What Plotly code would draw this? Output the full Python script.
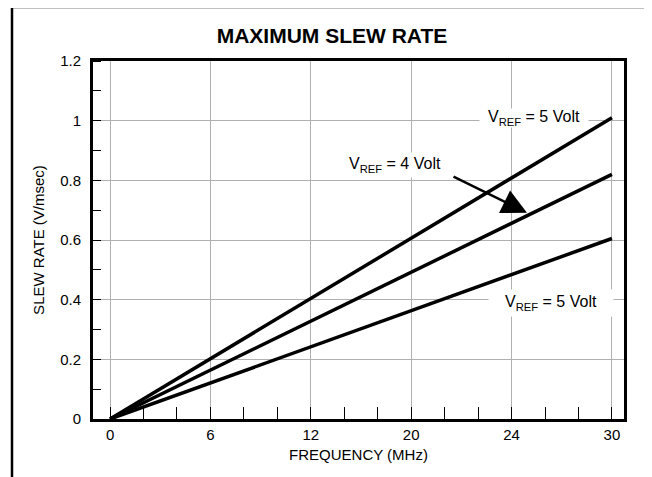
import plotly.graph_objects as go

# Data
freq = [0, 30]
slew_vref5_top = [0, 1.01]
slew_vref4 = [0, 0.82]
slew_vref5_bottom = [0, 0.605]

x_tickvals = [0, 6, 12, 18, 24, 30]
x_ticktext = ["0", "6", "12", "20", "24", "30"]
y_tickvals = [0, 0.2, 0.4, 0.6, 0.8, 1.0, 1.2]
y_ticktext = ["0", "0.2", "0.4", "0.6", "0.8", "1", "1.2"]

FONT = "Liberation Sans, Arial, Helvetica, sans-serif"

fig = go.Figure()
for ys in (slew_vref5_top, slew_vref4, slew_vref5_bottom):
    fig.add_trace(go.Scatter(x=freq, y=ys, mode="lines",
                             line=dict(color="black", width=3.5),
                             showlegend=False, hoverinfo="skip"))

W, H = 652, 477
OFF = 8  # page body margin
L, T = 93 - OFF, 61 - OFF
pw, ph = 531, 358
R = W - L - pw
B = H - T - ph

def px(xp):
    return (xp - OFF - L) / pw

def py(yp):
    return (T + ph - (yp - OFF)) / ph

fig.update_layout(
    width=W, height=H,
    margin=dict(l=L, r=R, t=T, b=B),
    paper_bgcolor="white", plot_bgcolor="white",
    font=dict(family=FONT, size=15, color="black"),
    title=dict(text="<b>MAXIMUM SLEW RATE</b>", x=px(332), y=1 - (36 - OFF) / H,
               xref="paper", xanchor="center", yanchor="middle",
               font=dict(family=FONT, size=21, color="black")),
    xaxis=dict(range=[-1.02, 30.72], tickvals=x_tickvals, ticktext=x_ticktext,
               showgrid=True, gridcolor="#b0b0b0", gridwidth=1,
               zeroline=False, showline=True, linecolor="black", linewidth=3,
               mirror=True, ticks="",
               minor=dict(dtick=2, tick0=0, ticks="inside", ticklen=12,
                          tickcolor="black", tickwidth=1, showgrid=False),
               title=dict(text="FREQUENCY (MHz)", standoff=8,
                          font=dict(size=15)),
               tickfont=dict(size=15)),
    yaxis=dict(range=[0, 1.2], tickvals=y_tickvals, ticktext=y_ticktext,
               showgrid=True, gridcolor="#b0b0b0", gridwidth=1,
               zeroline=False, showline=True, linecolor="black", linewidth=3,
               mirror=True, ticks="", ticklabelstandoff=6,
               minor=dict(dtick=0.1, tick0=0, ticks="inside", ticklen=8,
                          tickcolor="black", tickwidth=1, showgrid=False),
               title=dict(text="SLEW RATE (V/msec)", standoff=12,
                          font=dict(size=15)),
               tickfont=dict(size=15)),
)

ann_font = dict(family=FONT, size=16, color="black")
fig.add_annotation(x=25.35, y=1.01, text="V<sub>REF</sub> = 5 Volt",
                   showarrow=False, bgcolor="white", font=ann_font,
                   width=106, height=16)
fig.add_annotation(x=17.06, y=0.851, text="V<sub>REF</sub> = 4 Volt",
                   showarrow=False, bgcolor="white", font=ann_font,
                   width=104, height=22)
fig.add_annotation(x=26.38, y=0.389, text="V<sub>REF</sub> = 5 Volt",
                   showarrow=False, bgcolor="white", font=ann_font,
                   width=122, height=24)
fig.add_annotation(x=24.92, y=0.691, ax=20.44, ay=0.815, axref="x", ayref="y",
                   xref="x", yref="y", text="", showarrow=True,
                   arrowhead=2, arrowsize=2.0, arrowwidth=2.5, arrowcolor="black")

# Outer frame
fig.add_shape(type="line", xref="paper", yref="paper",
              x0=px(12), x1=px(12), y0=py(7), y1=py(490),
              line=dict(color="black", width=2.5))
fig.add_shape(type="line", xref="paper", yref="paper",
              x0=px(11), x1=px(660), y0=py(7), y1=py(7),
              line=dict(color="black", width=2.5))
fig.add_shape(type="line", xref="paper", yref="paper",
              x0=px(651), x1=px(651), y0=py(7), y1=py(490),
              line=dict(color="#888888", width=1))

fig.write_html("out.html")
